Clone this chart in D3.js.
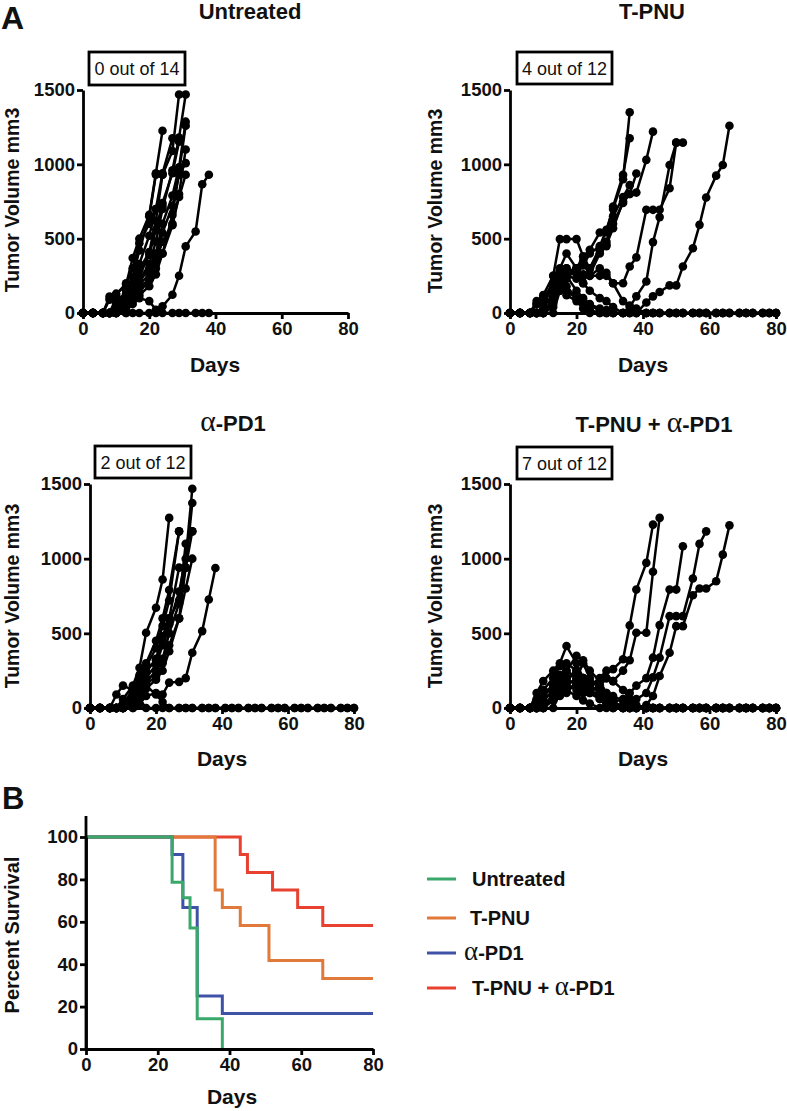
<!DOCTYPE html>
<html><head><meta charset="utf-8">
<script src="https://cdn.jsdelivr.net/npm/d3@7"></script>
<style>
body{margin:0;background:#fff;}
text{font-family:"Liberation Sans",Arial,Helvetica,sans-serif;}
</style></head>
<body><svg id="c" width="787" height="1111"></svg>
<script>
// ---------- DATA ----------
const days = [0,3,6,8,10,13,15,17,20,22,24,27,29,31,34,36,38,41,43,45,48,50,52,55,57,59,62,64,66,69,71,73,76,78,80];

const untreated = [
 [0,0,0,110,130,190,370,500,660,940,1226],
 [0,0,0,0,60,150,240,420,650,930,930],
 [0,0,0,90,120,200,300,470,600,700,720],
 [0,0,0,0,40,130,200,330,520,700,940,1175],
 [0,0,0,0,0,100,180,290,410,620,930,1090,1470],
 [0,0,0,0,30,110,160,250,390,560,740,940,1152],
 [0,0,0,0,0,70,140,220,330,480,700,960,1180,1470],
 [0,0,0,0,20,90,150,210,300,400,600,790,980,1287],
 [0,0,0,0,0,60,130,190,260,380,540,720,930,1008],
 [0,0,0,0,0,40,100,170,230,350,480,600,780,930],
 [0,0,0,0,0,20,60,140,220,300,400,660,950,1260],
 [0,0,0,0,0,0,80,120,180,260,400,590,800,1100],
 [0,0,0,0,0,0,0,0,0,0,45,123,251,448,548,866,930],
 [0,0,0,0,100,110,120,100,80,22,0,0,0,0,0,0,0]
];

const tpnu = [
 [0,0,0,0,0,250,497,497,497,380,425,541,541,716,929,1175],
 [0,0,0,0,50,100,200,300,260,320,400,450,560,700,900,1350],
 [0,0,0,60,100,150,280,230,300,380,300,420,450,650,780,860],
 [0,0,0,0,0,80,180,250,280,250,260,400,460,570,750,800,938],
 [0,0,0,0,0,40,150,250,300,200,300,440,480,600,740,800,810,1030,1220],
 [0,0,0,0,0,100,280,250,150,100,60,30,20,0,0,40,112,212,477,645,996,1146],
 [0,0,0,0,0,60,200,300,280,350,250,300,250,200,200,313,374,694,694,694,839,1146,1146],
 [0,0,0,0,0,100,200,150,100,60,20,0,0,0,0,0,0,71,112,141,186,186,313,436,593,777,924,996,1260],
 [0,0,0,60,100,200,250,180,100,80,50,20,0,0,0,0,0,0,0,0,0,0,0,0,0,0,0,0,0,0,0,0,0,0,0],
 [0,0,0,0,50,120,300,400,300,200,150,100,80,40,0,0,0,0,0,0,0,0,0,0,0,0,0,0,0,0,0,0,0,0,0],
 [0,0,0,0,0,0,150,250,230,260,250,250,270,200,80,50,30,0,0,0,0,0,0,0,0,0,0,0,0,0,0,0,0,0,0],
 [0,0,0,80,120,250,180,120,80,30,0,0,0,0,0,0,0,0,0,0,0,0,0,0,0,0,0,0,0,0,0,0,0,0,0]
];

const apd1 = [
 [0,0,0,0,60,150,270,504,671,860,1273],
 [0,0,0,0,0,100,220,300,450,600,790,1183],
 [0,0,0,0,30,120,200,280,400,550,720,1183],
 [0,0,0,0,0,80,150,240,330,480,600,940],
 [0,0,0,0,0,60,130,200,290,420,560,780,1000,1468],
 [0,0,0,0,20,100,180,250,320,460,600,720,940,1373],
 [0,0,0,0,0,50,120,170,250,330,500,700,1100,1183],
 [0,0,0,0,0,40,100,160,210,300,420,600,940,1183],
 [0,0,0,0,0,0,70,130,190,250,380,600,800,1000],
 [0,0,0,0,0,0,30,80,100,90,170,175,200,370,515,727,938],
 [0,0,0,90,150,120,60,0,0,0,0,0,0,0,0,0,0,0,0,0,0,0,0,0,0,0,0,0,0,0,0,0,0,0,0],
 [0,0,0,0,0,30,100,150,90,40,0,0,0,0,0,0,0,0,0,0,0,0,0,0,0,0,0,0,0,0,0,0,0,0,0]
];

const combo = [
 [0,0,0,0,50,120,180,250,200,180,150,200,250,260,326,553,793,972,1228],
 [0,0,0,50,100,150,200,160,120,100,120,150,200,180,250,320,504,504,912,1273],
 [0,0,0,0,0,100,150,200,250,180,120,80,60,40,60,100,150,200,337,555,793,793,1083],
 [0,0,0,0,0,80,200,300,250,150,100,60,30,20,20,40,60,100,205,337,615,615,615,867,1099,1183],
 [0,0,0,0,0,0,100,120,80,50,30,0,0,0,0,0,0,20,80,214,370,548,548,755,800,800,849,1027,1223],
 [0,0,0,100,180,250,300,415,300,200,150,100,50,20,0,0,0,0,0,0,0,0,0,0,0,0,0,0,0,0,0,0,0,0,0],
 [0,0,0,60,120,200,280,250,350,320,250,180,100,50,0,0,0,0,0,0,0,0,0,0,0,0,0,0,0,0,0,0,0,0,0],
 [0,0,0,0,80,150,220,180,250,200,150,100,60,0,0,0,0,0,0,0,0,0,0,0,0,0,0,0,0,0,0,0,0,0,0],
 [0,0,0,40,100,120,180,200,150,100,120,80,40,20,0,0,0,0,0,0,0,0,0,0,0,0,0,0,0,0,0,0,0,0,0],
 [0,0,0,0,0,60,120,150,200,300,200,120,100,80,50,30,0,0,0,0,0,0,0,0,0,0,0,0,0,0,0,0,0,0,0],
 [0,0,0,0,60,100,150,100,180,150,100,60,30,0,0,0,0,0,0,0,0,0,0,0,0,0,0,0,0,0,0,0,0,0,0],
 [0,0,0,0,0,50,80,120,150,200,180,150,200,180,120,60,20,0,0,0,0,0,0,0,0,0,0,0,0,0,0,0,0,0,0]
];

const volumeTicks = [0,500,1000,1500];
const dayTicks = [0,20,40,60,80];
const responders = ["0 out of 14","4 out of 12","2 out of 12","7 out of 12"];

// survival (Kaplan-Meier steps)
const survUntreatedT = [0,24,27,29,31,38];
const survUntreatedP = [100,78.6,71.4,57.1,14.3,0];
const survTpnuT = [0,36,38,43,51,66,80];
const survTpnuP = [100,75,66.7,58.3,41.7,33.3,33.3];
const survApd1T = [0,24,27,31,38,80];
const survApd1P = [100,91.7,66.7,25,16.7,16.7];
const survComboT = [0,43,45,52,59,66,80];
const survComboP = [100,91.7,83.3,75,66.7,58.3,58.3];
const survivalTicks = [0,20,40,60,80,100];

const colors = {untreated:"#3aa86a", tpnu:"#e0793a", apd1:"#3e52a6", combo:"#e8412f"};

// ---------- DRAW ----------
const svg = d3.select("#c");
const FONT = '"Liberation Sans",Arial,Helvetica,sans-serif';

function titleWithAlpha(sel, parts, size){
  parts.forEach(p=>{
    const t = sel.append("tspan").text(p.t);
    if(p.alpha){ t.attr("font-family",'"Liberation Serif","Times New Roman",serif').attr("font-weight","normal").attr("font-size",size*1.35); }
  });
}

function styleAxis(g){
  g.selectAll(".domain").attr("stroke","#000").attr("stroke-width",2.8);
  g.selectAll(".tick line").attr("stroke","#000").attr("stroke-width",2.8);
  g.selectAll(".tick text").attr("font-family",FONT).attr("font-weight","bold").attr("font-size",18.5).attr("fill","#111");
}
const fmt = d3.format("d");

const panels = [
 {data:untreated, x0:83, x1:348, y0:313, y1:90, title:[{t:"Untreated"}], tx:250, ty:19,
  box:[89,52,96,33], ylx:19, yly:200, dx:215, dy:372},
 {data:tpnu, x0:510, x1:776, y0:313, y1:90, title:[{t:"T-PNU"}], tx:652, ty:19,
  box:[517,52,95,32], ylx:442, yly:201, dx:643, dy:372},
 {data:apd1, x0:90, x1:354, y0:708, y1:484, title:[{t:"α",alpha:true},{t:"-PD1"}], tx:233, ty:431,
  box:[95,446,96,32], ylx:19, yly:596, dx:222, dy:766},
 {data:combo, x0:510, x1:776, y0:708, y1:484, title:[{t:"T-PNU + "},{t:"α",alpha:true},{t:"-PD1"}], tx:654, ty:432,
  box:[517,447,95,32], ylx:442, yly:596, dx:643, dy:766}
];

panels.forEach((p,i)=>{
  const x = d3.scaleLinear().domain([0,80]).range([p.x0,p.x1]);
  const y = d3.scaleLinear().domain([0,1500]).range([p.y0,p.y1]);
  const g = svg.append("g");

  // series
  const line = d3.line().x((v,j)=>x(days[j])).y(v=>y(v));
  p.data.forEach(m=>{
    g.append("path").attr("d",line(m)).attr("fill","none").attr("stroke","#000").attr("stroke-width",2.5);
  });
  p.data.forEach(m=>{
    g.selectAll(null).data(m).enter().append("circle")
      .attr("cx",(v,j)=>x(days[j])).attr("cy",v=>y(v)).attr("r",4.3).attr("fill","#000");
  });

  // axes
  const ax = g.append("g").attr("transform",`translate(0,${p.y0})`)
    .call(d3.axisBottom(x).tickValues(dayTicks).tickFormat(fmt).tickSize(6).tickSizeOuter(0).tickPadding(3));
  styleAxis(ax);
  const ay = g.append("g").attr("transform",`translate(${p.x0},0)`)
    .call(d3.axisLeft(y).tickValues(volumeTicks).tickFormat(fmt).tickSize(6).tickSizeOuter(0).tickPadding(2));
  styleAxis(ay);

  // title
  const tt = g.append("text").attr("x",p.tx).attr("y",p.ty).attr("text-anchor","middle")
    .attr("font-weight","bold").attr("font-size",22).attr("fill","#111");
  titleWithAlpha(tt,p.title,22);

  // responder box
  g.append("rect").attr("x",p.box[0]).attr("y",p.box[1]).attr("width",p.box[2]).attr("height",p.box[3])
    .attr("fill","#fff").attr("stroke","#000").attr("stroke-width",2.8);
  g.append("text").attr("x",p.box[0]+p.box[2]/2).attr("y",p.box[1]+p.box[3]/2+6.5)
    .attr("text-anchor","middle").attr("font-size",18).attr("fill","#111").text(responders[i]);

  // axis labels
  g.append("text").attr("transform",`translate(${p.ylx},${p.yly}) rotate(-90)`).attr("text-anchor","middle")
    .attr("font-weight","bold").attr("font-size",19.5).attr("fill","#111").text("Tumor Volume mm3");
  g.append("text").attr("x",p.dx).attr("y",p.dy).attr("text-anchor","middle")
    .attr("font-weight","bold").attr("font-size",21).attr("fill","#111").text("Days");
});

// panel letters
svg.append("text").attr("x",1).attr("y",29).attr("font-weight","bold").attr("font-size",32).attr("fill","#111").text("A");
svg.append("text").attr("x",2).attr("y",809).attr("font-weight","bold").attr("font-size",31).attr("fill","#111").text("B");

// ---------- survival ----------
{
  const x = d3.scaleLinear().domain([0,80]).range([86,373]);
  const y = d3.scaleLinear().domain([0,100]).range([1049,837]);
  const g = svg.append("g");
  const step = d3.line().curve(d3.curveStepAfter);
  const series = [
    {t:survComboT, p:survComboP, c:colors.combo},
    {t:survTpnuT, p:survTpnuP, c:colors.tpnu},
    {t:survApd1T, p:survApd1P, c:colors.apd1},
    {t:survUntreatedT, p:survUntreatedP, c:colors.untreated}
  ];
  series.forEach(s=>{
    const pts = s.t.map((d,k)=>[x(d),y(s.p[k])]);
    g.append("path").attr("d",step(pts)).attr("fill","none").attr("stroke",s.c).attr("stroke-width",3);
  });
  const ax = g.append("g").attr("transform","translate(0,1049)")
    .call(d3.axisBottom(x).tickValues(dayTicks).tickFormat(fmt).tickSize(6).tickSizeOuter(0).tickPadding(3));
  styleAxis(ax);
  const ay = g.append("g").attr("transform","translate(86,0)")
    .call(d3.axisLeft(y).tickValues(survivalTicks).tickFormat(fmt).tickSize(6).tickSizeOuter(0).tickPadding(2));
  styleAxis(ay);
  // extend y axis above 100
  g.append("line").attr("x1",86).attr("x2",86).attr("y1",816).attr("y2",1049).attr("stroke","#000").attr("stroke-width",2.8);
  g.append("text").attr("x",232).attr("y",1104).attr("text-anchor","middle")
    .attr("font-weight","bold").attr("font-size",21).attr("fill","#111").text("Days");
  g.append("text").attr("transform","translate(19,935) rotate(-90)").attr("text-anchor","middle")
    .attr("font-weight","bold").attr("font-size",20).attr("fill","#111").text("Percent Survival");

  // legend
  const legend = [
    {parts:[{t:"Untreated"}], c:colors.untreated, y:879, lx:472},
    {parts:[{t:"T-PNU"}], c:colors.tpnu, y:918, lx:470},
    {parts:[{t:"α",alpha:true},{t:"-PD1"}], c:colors.apd1, y:953, lx:464},
    {parts:[{t:"T-PNU + "},{t:"α",alpha:true},{t:"-PD1"}], c:colors.combo, y:988, lx:472}
  ];
  legend.forEach(l=>{
    g.append("line").attr("x1",427).attr("x2",456).attr("y1",l.y).attr("y2",l.y).attr("stroke",l.c).attr("stroke-width",3);
    const t = g.append("text").attr("x",l.lx).attr("y",l.y+7).attr("font-weight","bold").attr("font-size",20).attr("fill","#111");
    titleWithAlpha(t,l.parts,20);
  });
}
</script></body></html>
